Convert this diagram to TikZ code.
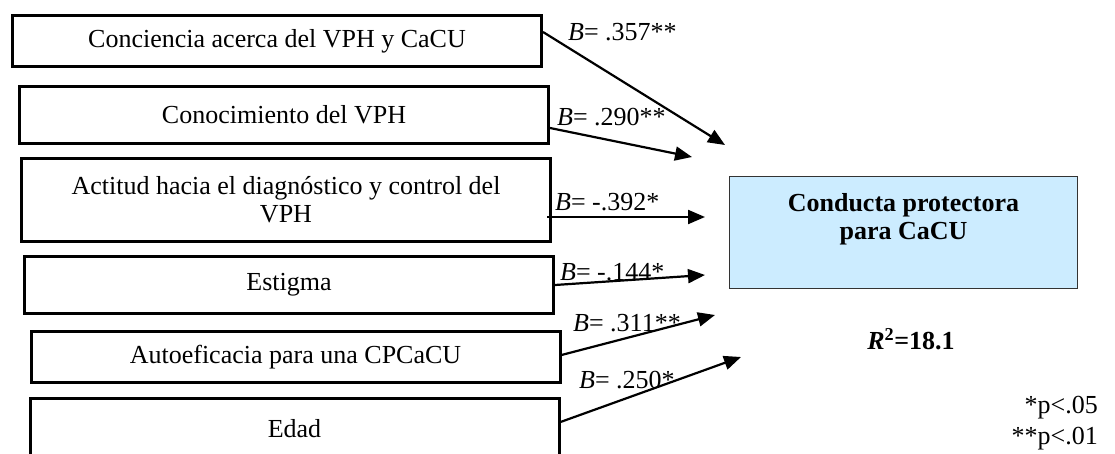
\documentclass[tikz,border=0pt]{standalone}
\usepackage{fontspec}
\setmainfont{Liberation Serif}
\usetikzlibrary{arrows.meta}
\definecolor{lightblue}{HTML}{CCECFF}
\definecolor{boxedge}{HTML}{333333}
\begin{document}
\begin{tikzpicture}[x=1pt,y=-1pt,
  src/.style={draw,line width=3pt,minimum width=529pt,inner sep=0pt,align=center,
    font=\fontsize{26}{28}\selectfont},
  target/.style={draw=boxedge,line width=1.5pt,fill=lightblue,minimum width=348pt,
    minimum height=112pt,inner sep=0pt},
  arr/.style={line width=2.2pt,-{Triangle[length=17pt,width=14pt]}},
  coef/.style={anchor=base west,inner sep=0pt,font=\fontsize{26}{29}\selectfont},
  plain/.style={inner sep=0pt,font=\fontsize{26}{31}\selectfont}]
\useasboundingbox (0,0) rectangle (1115,454);
\clip (0,0) rectangle (1115,454);
% predictor boxes
\node[src,minimum height=51pt] (b1) at (277,41) {Conciencia acerca del VPH y CaCU};
\node[src,minimum height=57pt] (b2) at (284,115) {Conocimiento del VPH};
\node[src,minimum height=83pt] (b3) at (286,200) {Actitud hacia el diagnóstico y control del\\VPH};
\node[src,minimum height=57pt] (b4) at (289,285) {Estigma};
\node[src,minimum height=51pt] (b5) at (295.5,357) {Autoeficacia para una CPCaCU};
\node[src,minimum height=62pt] (b6) at (294.5,429) {Edad};
% outcome box
\node[target,label={[plain,align=center,font=\fontsize{26}{28}\selectfont\bfseries,yshift=13pt]center:Conducta protectora\\para CaCU}] (y) at (903.5,232.5) {};
% arrow end points
\coordinate (t1) at (725,145);
\coordinate (t2) at (692,157);
\coordinate (t3) at (705,217);
\coordinate (t4) at (705,275);
\coordinate (t5) at (715,315);
\coordinate (t6) at (741,357);
% arrows
\draw[arr] ([yshift=9pt]b1.east) -- (t1);
\draw[arr] ([yshift=-13pt]b2.east) -- (t2);
\draw[arr] ([xshift=-5pt,yshift=-17pt]b3.east) -- (t3);
\draw[arr] (b4.east) -- (t4);
\draw[arr] ([yshift=2pt]b5.east) -- (t5);
\draw[arr] ([yshift=7pt]b6.east) -- (t6);
% coefficients
\node[coef] (c1) at (568,41) {\textit{B}= .357**};
\node[coef] (c2) at (557,126) {\textit{B}= .290**};
\node[coef] (c3) at (555,211) {\textit{B}= -.392*};
\node[coef] (c4) at (560,280) {\textit{B}= -.144*};
\node[coef] (c5) at (573,331) {\textit{B}= .311**};
\node[coef] (c6) at (579,388) {\textit{B}= .250*};
% R squared
\node[plain,font=\fontsize{26}{31}\selectfont\bfseries] (r2) at (911,339) {\textit{R}\textsuperscript{2}=18.1};
% legend
\node[plain,anchor=east,align=right] (leg) at (1098,423) {*p<.05\\**p<.01};
\end{tikzpicture}
\end{document}
